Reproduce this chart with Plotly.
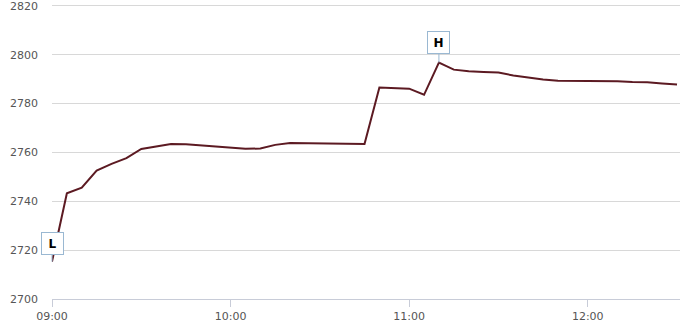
import plotly.graph_objects as go

times = ["09:00", "09:05", "09:10", "09:15", "09:20", "09:25", "09:30", "09:35", "09:40", "09:45",
         "09:50", "09:55", "10:00", "10:05", "10:10", "10:15", "10:20", "10:25", "10:30", "10:35",
         "10:40", "10:45", "10:50", "10:55", "11:00", "11:05", "11:10", "11:15", "11:20", "11:25",
         "11:30", "11:35", "11:40", "11:45", "11:50", "11:55", "12:00", "12:05", "12:10", "12:15",
         "12:20", "12:25", "12:30"]
values = [2715.3, 2743.3, 2745.6, 2752.6, 2755.3, 2757.7, 2761.4, 2762.5, 2763.5, 2763.4,
          2762.9, 2762.3, 2761.8, 2761.5, 2761.6, 2763.1, 2763.9, 2763.8, 2763.8, 2763.7,
          2763.6, 2763.5, 2786.6, 2786.4, 2786.1, 2783.6, 2796.8, 2793.9, 2793.2, 2792.9,
          2792.7, 2791.5, 2790.6, 2789.9, 2789.3, 2789.3, 2789.3, 2789.3, 2789.1, 2788.8,
          2788.7, 2788.2, 2787.8]
x_ticks = ["09:00", "10:00", "11:00", "12:00"]
y_ticks = [2700, 2720, 2740, 2760, 2780, 2800, 2820]

day = "2024-01-02 "
xs = [day + t for t in times]

fig = go.Figure()
fig.add_trace(go.Scatter(x=xs, y=values, mode="lines",
                         line=dict(color="#5c1a22", width=2), hoverinfo="skip"))

lo = min(range(len(values)), key=lambda i: values[i])
hi = max(range(len(values)), key=lambda i: values[i])
for idx, label, ay in [(lo, "L", -18), (hi, "H", -20)]:
    fig.add_annotation(x=xs[idx], y=values[idx], text="<b>" + label + "</b>",
                       showarrow=True, arrowhead=0, arrowcolor="#9ab8d2", arrowwidth=1,
                       ax=0, ay=ay, bgcolor="white", bordercolor="#9ab8d2", borderwidth=1,
                       borderpad=3, width=15, height=15,
                       font=dict(family="DejaVu Sans", size=12, color="black"))

fig.update_layout(
    width=682, height=326,
    margin=dict(l=52, r=2, t=1, b=27),
    paper_bgcolor="white", plot_bgcolor="white",
    showlegend=False,
    font=dict(family="DejaVu Sans", size=11, color="#555555"),
    xaxis=dict(type="date", range=[day + "09:00", day + "12:31"],
               tickvals=[day + t for t in x_ticks], ticktext=x_ticks,
               showgrid=False, zeroline=False, showline=True, linecolor="#c8ccd8", linewidth=1,
               ticks="outside", ticklen=7, tickcolor="#c8ccd8", ticklabeloverflow="allow"),
    yaxis=dict(range=[2700, 2822], tickvals=y_ticks, showgrid=True, gridcolor="#d8d8d8",
               gridwidth=1, zeroline=False, showline=False, ticks="",
               ticklabelstandoff=13, ticklabeloverflow="allow"),
)
fig.write_html("out.html")
